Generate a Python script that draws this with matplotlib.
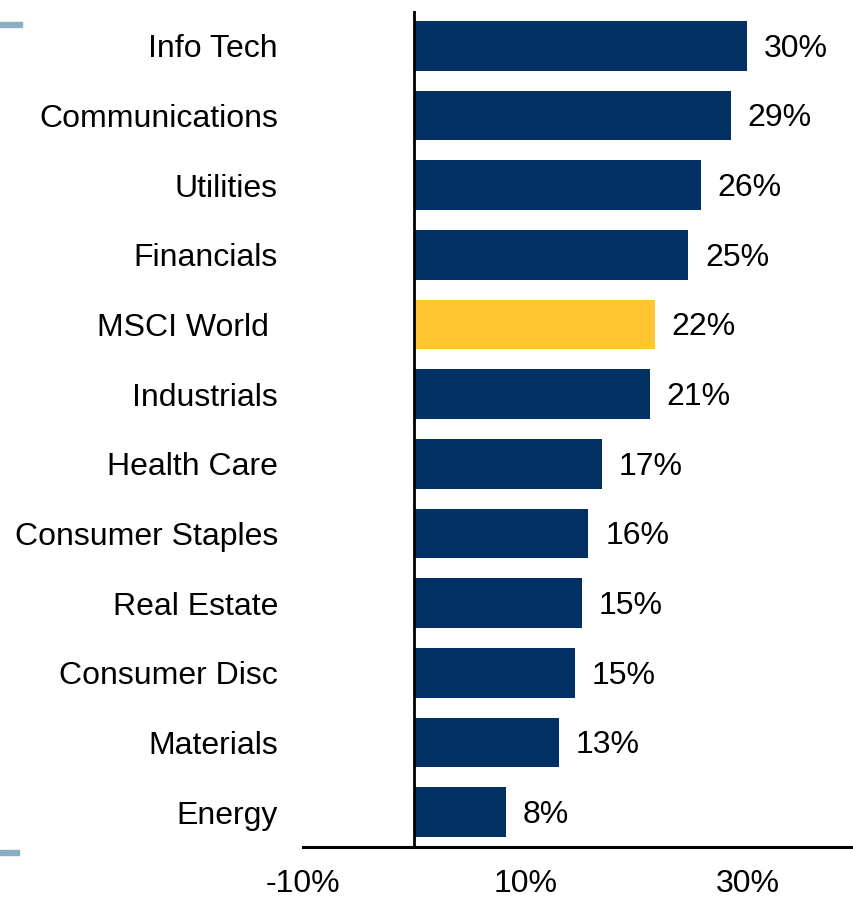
import matplotlib.pyplot as plt
from matplotlib.patches import Rectangle

# data
sectors = ["Info Tech", "Communications", "Utilities", "Financials", "MSCI World ",
           "Industrials", "Health Care", "Consumer Staples", "Real Estate",
           "Consumer Disc", "Materials", "Energy"]
values = [30.0, 28.5, 25.8, 24.7, 21.7, 21.2, 16.9, 15.7, 15.1, 14.5, 13.0, 8.3]
value_labels = ["30%", "29%", "26%", "25%", "22%", "21%", "17%", "16%", "15%",
                "15%", "13%", "8%"]
x_ticks = [-10, 10, 30]
x_tick_labels = ["-10%", "10%", "30%"]

navy = "#003064"
gold = "#FFC62F"
colors = [gold if s.strip() == "MSCI World" else navy for s in sectors]

plt.rcParams['font.family'] = ['Liberation Sans', 'DejaVu Sans']
fs = 23

W, H = 854, 898
fig = plt.figure(figsize=(W / 100, H / 100), dpi=100)
ax = fig.add_axes([303 / W, (H - 847) / H, (854 - 303) / W, (847 - 11) / H])

y = list(range(len(sectors)))
ax.barh(y, values, height=0.71, color=colors)

for yi, v, lab in zip(y, values, value_labels):
    ax.text(v + 1.5, yi + 0.04, lab, va="center", ha="left", fontsize=fs)

ax.axvline(0, color="black", lw=2)
ax.set_xlim(-10, 39.6)
ax.set_ylim(len(sectors) - 0.5, -0.5)

ax.set_yticks(y)
ax.set_yticklabels(sectors, fontsize=fs)
ax.set_xticks(x_ticks)
ax.set_xticklabels(x_tick_labels, fontsize=fs)
ax.tick_params(axis="both", length=0)
ax.tick_params(axis="y", pad=18)
ax.tick_params(axis="x", pad=16)

for side in ["top", "right", "left"]:
    ax.spines[side].set_visible(False)
ax.spines["bottom"].set_linewidth(2.2)

# small decorative marks on the left edge
fig.patches.append(Rectangle((0, 1 - 27 / H), 22 / W, 5 / H, transform=fig.transFigure,
                             color="#8AAFC4"))
fig.patches.append(Rectangle((0, 1 - 855 / H), 19 / W, 5 / H, transform=fig.transFigure,
                             color="#8AAFC4"))

fig.savefig("out.png", dpi=100)
